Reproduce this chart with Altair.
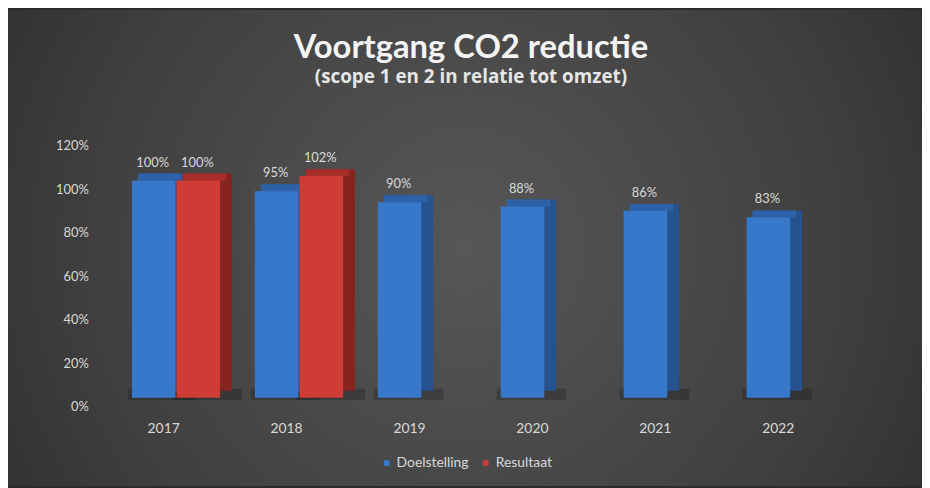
import altair as alt
import pandas as pd

# ---- data ----
years = ["2017", "2018", "2019", "2020", "2021", "2022"]
doelstelling = [1.00, 0.95, 0.90, 0.88, 0.86, 0.83]
resultaat = [1.00, 1.02, None, None, None, None]
series_names = ["Doelstelling", "Resultaat"]
y_ticks = [0, 0.2, 0.4, 0.6, 0.8, 1.0, 1.2]

# ---- styles ----
front_colors = ["#3878ca", "#cf3b35"]
top_colors = ["#2d62a8", "#a72d29"]
side_colors = ["#26528e", "#86241f"]
series_shift = [-10, 35]   # pixel position of each series' bar in its band (3D cluster)
TXT = "#d9d9d9"
FONT = "Lato"

rows = []
for i, yr in enumerate(years):
    for s, vals in zip(series_names, [doelstelling, resultaat]):
        if vals[i] is not None:
            rows.append({"year": yr, "series": s, "value": vals[i]})
df = pd.DataFrame(rows)

W, H = 744, 263
PAD = {"left": 95, "top": 137, "right": 83, "bottom": 80}
FY = -9          # front face lifted (3D perspective)
DX, DY = 12, 7   # depth of the 3D bars
BAR = 44

x_enc = alt.X(
    "year:N", sort=years,
    scale=alt.Scale(domain=years, paddingInner=0.282, paddingOuter=0.141),
    axis=alt.Axis(title=None, labelAngle=0, domain=False, ticks=False, grid=False,
                  labelColor=TXT, labelFontSize=14, labelFont=FONT, labelPadding=15,
                  zindex=2),
)
y_enc = alt.Y(
    "value:Q",
    scale=alt.Scale(domain=[0, 1.2], nice=False),
    axis=alt.Axis(title=None, values=y_ticks, format=".0%", domain=False, ticks=False,
                  grid=False, labelColor=TXT, labelFontSize=13, labelFont=FONT,
                  labelPadding=14, zindex=2),
)
color_enc = alt.Color(
    "series:N", sort=series_names,
    scale=alt.Scale(domain=series_names, range=front_colors),
    legend=alt.Legend(title=None, orient="none", legendX=280, legendY=313,
                      direction="horizontal", symbolType="square", symbolSize=32,
                      labelFontSize=14, labelColor=TXT, labelFont=FONT,
                      columnPadding=10, labelOffset=3, symbolStrokeWidth=0, zindex=2),
)


def series_layers(k):
    name = series_names[k]
    sh = series_shift[k]
    base = alt.Chart(df).transform_filter(alt.datum.series == name)
    shadow = base.mark_bar(size=BAR + 26, xOffset=sh + 9, yOffset=FY - DY - 2, y2Offset=FY + 2,
                           color="#111111", opacity=0.28).encode(
        x=x_enc, y=alt.datum(0), y2=alt.datum(0))
    side = base.mark_bar(size=BAR, xOffset=sh + DX, yOffset=FY - DY, y2Offset=FY - DY,
                         color=side_colors[k]).encode(x=x_enc, y=y_enc)
    top = base.mark_bar(size=BAR, xOffset=sh + DX / 2, yOffset=FY - DY, y2Offset=FY,
                        color=top_colors[k]).encode(x=x_enc, y=y_enc, y2=alt.Y2("value:Q"))
    front = base.mark_bar(size=BAR, xOffset=sh, yOffset=FY, y2Offset=FY).encode(
        x=x_enc, y=y_enc, color=color_enc)
    text = base.mark_text(xOffset=sh - 1, yOffset=FY - 14, baseline="alphabetic",
                          fontSize=13, font=FONT, color=TXT).encode(
        x=x_enc, y=y_enc, text=alt.Text("value:Q", format=".0%"))
    return shadow, side, top, front, text


bg = alt.Chart(alt.Data(values=[{}])).mark_rect(
    fill={"gradient": "radial", "x1": 0.5, "y1": 0.5, "x2": 0.5, "y2": 0.5,
          "r1": 0, "r2": 0.75,
          "stops": [{"offset": 0, "color": "#575757"},
                    {"offset": 0.55, "color": "#3f3f3f"},
                    {"offset": 1, "color": "#242424"}]}
).encode(x=alt.value(-PAD["left"]), x2=alt.value(W + PAD["right"]),
         y=alt.value(-PAD["top"]), y2=alt.value(H + PAD["bottom"]))

b_sh, b_side, b_top, b_front, b_text = series_layers(0)
r_sh, r_side, r_top, r_front, r_text = series_layers(1)

chart = alt.layer(bg, b_sh, r_sh, b_side, b_top, b_front, r_side, r_top, r_front,
                  b_text, r_text).properties(
    width=W, height=H,
    autosize=alt.AutoSizeParams(type="none"),
    padding=PAD,
    background="#2b2b2b",
    title=alt.TitleParams(
        text="Voortgang CO2 reductie",
        subtitle="(scope 1 en 2 in relatie tot omzet)",
        font=FONT, fontSize=33, fontWeight="bold", color="#f4f4f4",
        subtitleFont="Open Sans", subtitleFontSize=19, subtitleFontWeight="bold",
        subtitleColor="#e6e6e6", subtitlePadding=4, anchor="middle", offset=-78,
        zindex=2,
    ),
).configure_view(stroke=None)

chart.save("out.html", embed_options={"renderer": "svg", "actions": False})
